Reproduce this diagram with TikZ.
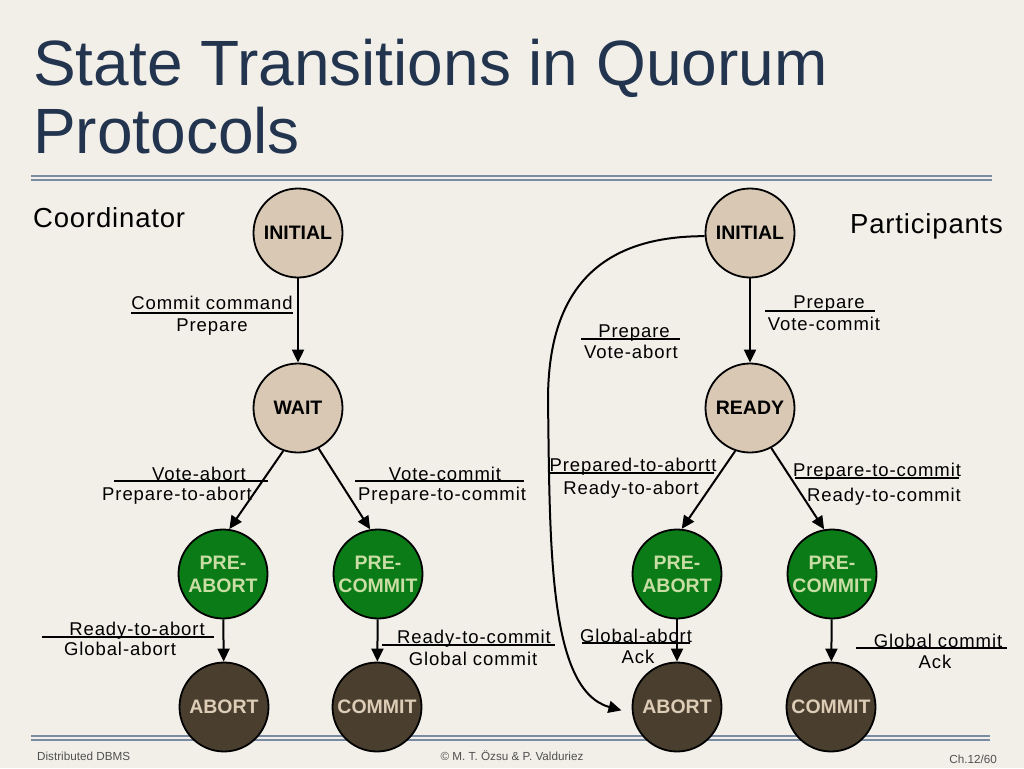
\documentclass[tikz,border=0pt]{standalone}
\usepackage{fontspec}
\setmainfont{Liberation Sans}
\newfontfamily\labfont[LetterSpace=5]{Liberation Sans}
\newfontfamily\headfont[LetterSpace=3]{Liberation Sans}
\usetikzlibrary{arrows.meta}
\definecolor{bgc}{HTML}{F2EFE9}
\definecolor{titlec}{HTML}{23344F}
\definecolor{rulec}{HTML}{7A8BA3}
\definecolor{beigec}{HTML}{D8C8B4}
\definecolor{greenc}{HTML}{0A7B16}
\definecolor{greentxt}{HTML}{C9DDA4}
\definecolor{brownc}{HTML}{4A3E2E}
\definecolor{browntxt}{HTML}{DDCDB7}
\definecolor{footc}{HTML}{505050}
\tikzset{
  st/.style={circle, draw=black, line width=1.8pt, minimum size=89pt, inner sep=0pt, align=center,
    font=\bfseries\fontsize{19.5}{23}\selectfont},
  beige/.style={st, fill=beigec},
  grn/.style={st, fill=greenc, text=greentxt},
  brn/.style={st, fill=brownc, text=browntxt},
  arr/.style={-{Triangle[length=13pt,width=12pt]}, line width=2pt},
  lab/.style={anchor=base, inner sep=0pt, font=\labfont\fontsize{18.5}{22}\selectfont},
  bar/.style={line width=1.6pt},
  dbl/.style={rulec, line width=2pt},
  foot/.style={inner sep=0pt, text=footc, font=\fontsize{11.7}{13}\selectfont},
  head/.style={anchor=base west, inner sep=0pt, font=\headfont\fontsize{27.5}{30}\selectfont}
}
\begin{document}
\begin{tikzpicture}[x=1pt,y=-1pt]
\useasboundingbox (0,0) rectangle (1024,768);
\fill[bgc] (0,0) rectangle (1024,768);

% title
\node[anchor=base west, inner sep=0pt, text=titlec, font=\fontsize{64}{68}\selectfont] (t1) at (33,85) {State Transitions in Quorum};
\node[anchor=base west, inner sep=0pt, text=titlec, font=\fontsize{64}{68}\selectfont] (t2) at (33,153) {Protocols};

% rules
\draw[dbl] (31,176) -- (992,176);
\draw[dbl] (31,180) -- (992,180);
\draw[dbl] (31,736) -- (990,736);
\draw[dbl] (31,740) -- (990,740);

% headings
\node[head] (hc) at (33,227) {Coordinator};
\node[head] (hp) at (850,233) {Participants};

% coordinator states
\node[beige] (ci) at (298,233) {INITIAL};
\node[beige] (cw) at (298,408) {WAIT};
\node[grn] (cpa) at (223,574) {PRE-\\ABORT};
\node[grn] (cpc) at (378,574) {PRE-\\COMMIT};
\node[brn] (cab) at (224,707) {ABORT};
\node[brn] (cco) at (377,707) {COMMIT};

% participant states
\node[beige] (pi) at (750,233) {INITIAL};
\node[beige] (pr) at (750,408) {READY};
\node[grn] (ppa) at (677,574) {PRE-\\ABORT};
\node[grn] (ppc) at (832,574) {PRE-\\COMMIT};
\node[brn] (pab) at (677,707) {ABORT};
\node[brn] (pco) at (831,707) {COMMIT};

% coordinator transitions
\draw[arr] (ci) -- (cw);
\draw[arr] (cw.251) -- (cpa.82);
\draw[arr] (cw.297) -- (cpc.100);
\draw[arr] (cpa) -- (cab);
\draw[arr] (cpc) -- (cco);

% participant transitions
\draw[arr] (pi) -- (pr);
\draw[arr] (pr.251) -- (ppa.84);
\draw[arr] (pr.298) -- (ppc.100);
\draw[arr] (ppa) -- (pab);
\draw[arr] (ppc) -- (pco);
\coordinate (bend) at (548,400);
\draw[arr, shorten >=11pt] (pi.184) .. controls (590,236) and (548,300) .. (bend)
  .. controls (550,545) and (548,690) .. (pab.188);

% labels: coordinator
\node[lab] (l1a) at (212,309) {Commit command};
\draw[bar] (131,313) -- (293,313);
\node[lab] (l1b) at (212,331) {Prepare};

\node[lab] (l2a) at (199,480) {Vote-abort};
\draw[bar] (114,481) -- (268,481);
\node[lab] (l2b) at (177,500) {Prepare-to-abort};

\node[lab] (l3a) at (445,480) {Vote-commit};
\draw[bar] (355,481) -- (524,481);
\node[lab] (l3b) at (442,500) {Prepare-to-commit};

\node[lab] (l4a) at (137,635) {Ready-to-abort};
\draw[bar] (42,637) -- (214,637);
\node[lab] (l4b) at (120,655) {Global-abort};

\node[lab] (l5a) at (474,643) {Ready-to-commit};
\draw[bar] (382,645) -- (555,645);
\node[lab] (l5b) at (473,665) {Global commit};

% labels: participants
\node[lab] (m1a) at (829,308) {Prepare};
\draw[bar] (765,311) -- (875,311);
\node[lab] (m1b) at (824,330) {Vote-commit};

\node[lab] (m2a) at (634,337) {Prepare};
\draw[bar] (581,339) -- (680,339);
\node[lab] (m2b) at (631,358) {Vote-abort};

\node[lab] (m3a) at (633,471) {Prepared-to-abortt};
\draw[bar] (550,473) -- (714,473);
\node[lab] (m3b) at (631,494) {Ready-to-abort};

\node[lab] (m4a) at (877,476) {Prepare-to-commit};
\draw[bar] (795,478) -- (959,478);
\node[lab] (m4b) at (884,501) {Ready-to-commit};

\node[lab] (m5a) at (636,642) {Global-abort};
\draw[bar] (582,643) -- (690,643);
\node[lab] (m5b) at (638,663) {Ack};

\node[lab] (m6a) at (938,647) {Global commit};
\draw[bar] (856,648) -- (1007,648);
\node[lab] (m6b) at (935,668) {Ack};

% footer
\node[foot, anchor=base west] (f1) at (37,760) {Distributed DBMS};
\node[foot, anchor=base] (f2) at (512,760) {© M. T. Özsu \& P. Valduriez};
\node[foot, anchor=base east] (f3) at (997,763) {Ch.12/60};
\end{tikzpicture}
\end{document}
